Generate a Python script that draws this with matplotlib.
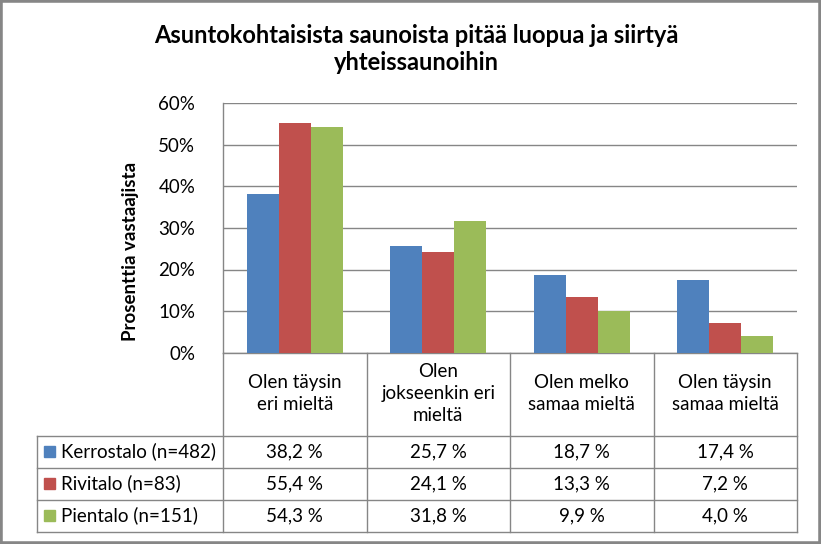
import matplotlib

matplotlib.use("Agg")
import matplotlib.pyplot as plt
import matplotlib.transforms as mtransforms
from matplotlib.lines import Line2D
from matplotlib.patches import Rectangle
import numpy as np

# - Data

title = "Asuntokohtaisista saunoista pitää luopua ja siirtyä\nyhteissaunoihin"
ylabel = "Prosenttia vastaajista"
categories = ["Olen täysin\neri mieltä", "Olen\njokseenkin eri\nmieltä", "Olen melko\nsamaa mieltä", "Olen täysin\nsamaa mieltä"]
series_names = ["Kerrostalo (n=482)", "Rivitalo (n=83)", "Pientalo (n=151)"]
kerrostalo = [38.2, 25.7, 18.7, 17.4]
rivitalo = [55.4, 24.1, 13.3, 7.2]
pientalo = [54.3, 31.8, 9.9, 4.0]
series_values = [kerrostalo, rivitalo, pientalo]
colors = ["#4F81BD", "#C0504D", "#9BBB59"]
yticks = [0, 10, 20, 30, 40, 50, 60]

W, H = 821, 544
GRID = "#868686"
FONT = "Lato"

plt.rcParams["font.family"] = [FONT, "DejaVu Sans"]

fig = plt.figure(figsize=(W / 100, H / 100), dpi=100)


def fx(x):
    return x / W


def fy(y):
    return 1 - y / H


# - Plot area

left, right, top, bottom = 223, 797, 103.5, 352.5
ax = fig.add_axes([fx(left), fy(bottom), fx(right - left), (bottom - top) / H])

n = len(categories)
x = np.arange(n)
bar_w = 0.223
for k, (vals, c) in enumerate(zip(series_values, colors)):
    ax.bar(x + (k - 1) * bar_w, vals, width=bar_w, color=c, zorder=3)

ax.set_xlim(-0.5, n - 0.5)
ax.set_ylim(0, 60)
ax.set_yticks(yticks)
ax.set_yticklabels([f"{t}%" for t in yticks], fontsize=13.5, color="#000000")
ax.set_xticks([])
ax.tick_params(axis="y", length=0, pad=20)
ax.grid(axis="y", color=GRID, linewidth=1.0, zorder=0)
for s in ["top", "right"]:
    ax.spines[s].set_visible(False)
for s in ["left", "bottom"]:
    ax.spines[s].set_color(GRID)
    ax.spines[s].set_linewidth(1.0)

# - Title and axis label

fig.text(fx(416), fy(49), title, ha="center", va="center", fontsize=17, fontweight="bold", linespacing=1.25)
fig.text(fx(130), fy(251), ylabel, ha="center", va="center", rotation=90, fontsize=13.5, fontweight="bold")

# - Data table

blend = mtransforms.blended_transform_factory(ax.transData, fig.transFigure)
row_lines = [435.5, 467.5, 499.5, 531.5]
table_left = 36.5


def hline(x0, x1, y):
    fig.add_artist(Line2D([fx(x0), fx(x1)], [fy(y), fy(y)], color=GRID, lw=1.0))


for y in row_lines:
    hline(table_left, right, y)

# category column borders
for b in np.arange(n + 1) - 0.5:
    fig.add_artist(Line2D([b, b], [fy(bottom), fy(row_lines[-1])], color=GRID, lw=1.0, transform=blend))
fig.add_artist(Line2D([fx(table_left)] * 2, [fy(row_lines[0]), fy(row_lines[-1])], color=GRID, lw=1.0))

# header
for i, cat in enumerate(categories):
    fig.text(i, fy(393.5), cat, transform=blend, ha="center", va="center", fontsize=13.5, linespacing=1.38)

# rows
for r, (name, vals, c) in enumerate(zip(series_names, series_values, colors)):
    yc = (row_lines[r] + row_lines[r + 1]) / 2
    fig.add_artist(Rectangle((fx(44), fy(yc + 5)), fx(10.5), 10.5 / H, color=c))
    fig.text(fx(61), fy(yc), name, ha="left", va="center", fontsize=13.5)
    for i, v in enumerate(vals):
        fig.text(i, fy(yc), f"{v:.1f} %".replace(".", ","), transform=blend, ha="center", va="center", fontsize=13.5)

# - Outer border

fig.add_artist(Rectangle((0, 0), 1, 1, fill=False, edgecolor="#868686", lw=4, transform=fig.transFigure))

plt.savefig("out.png", dpi=100)
